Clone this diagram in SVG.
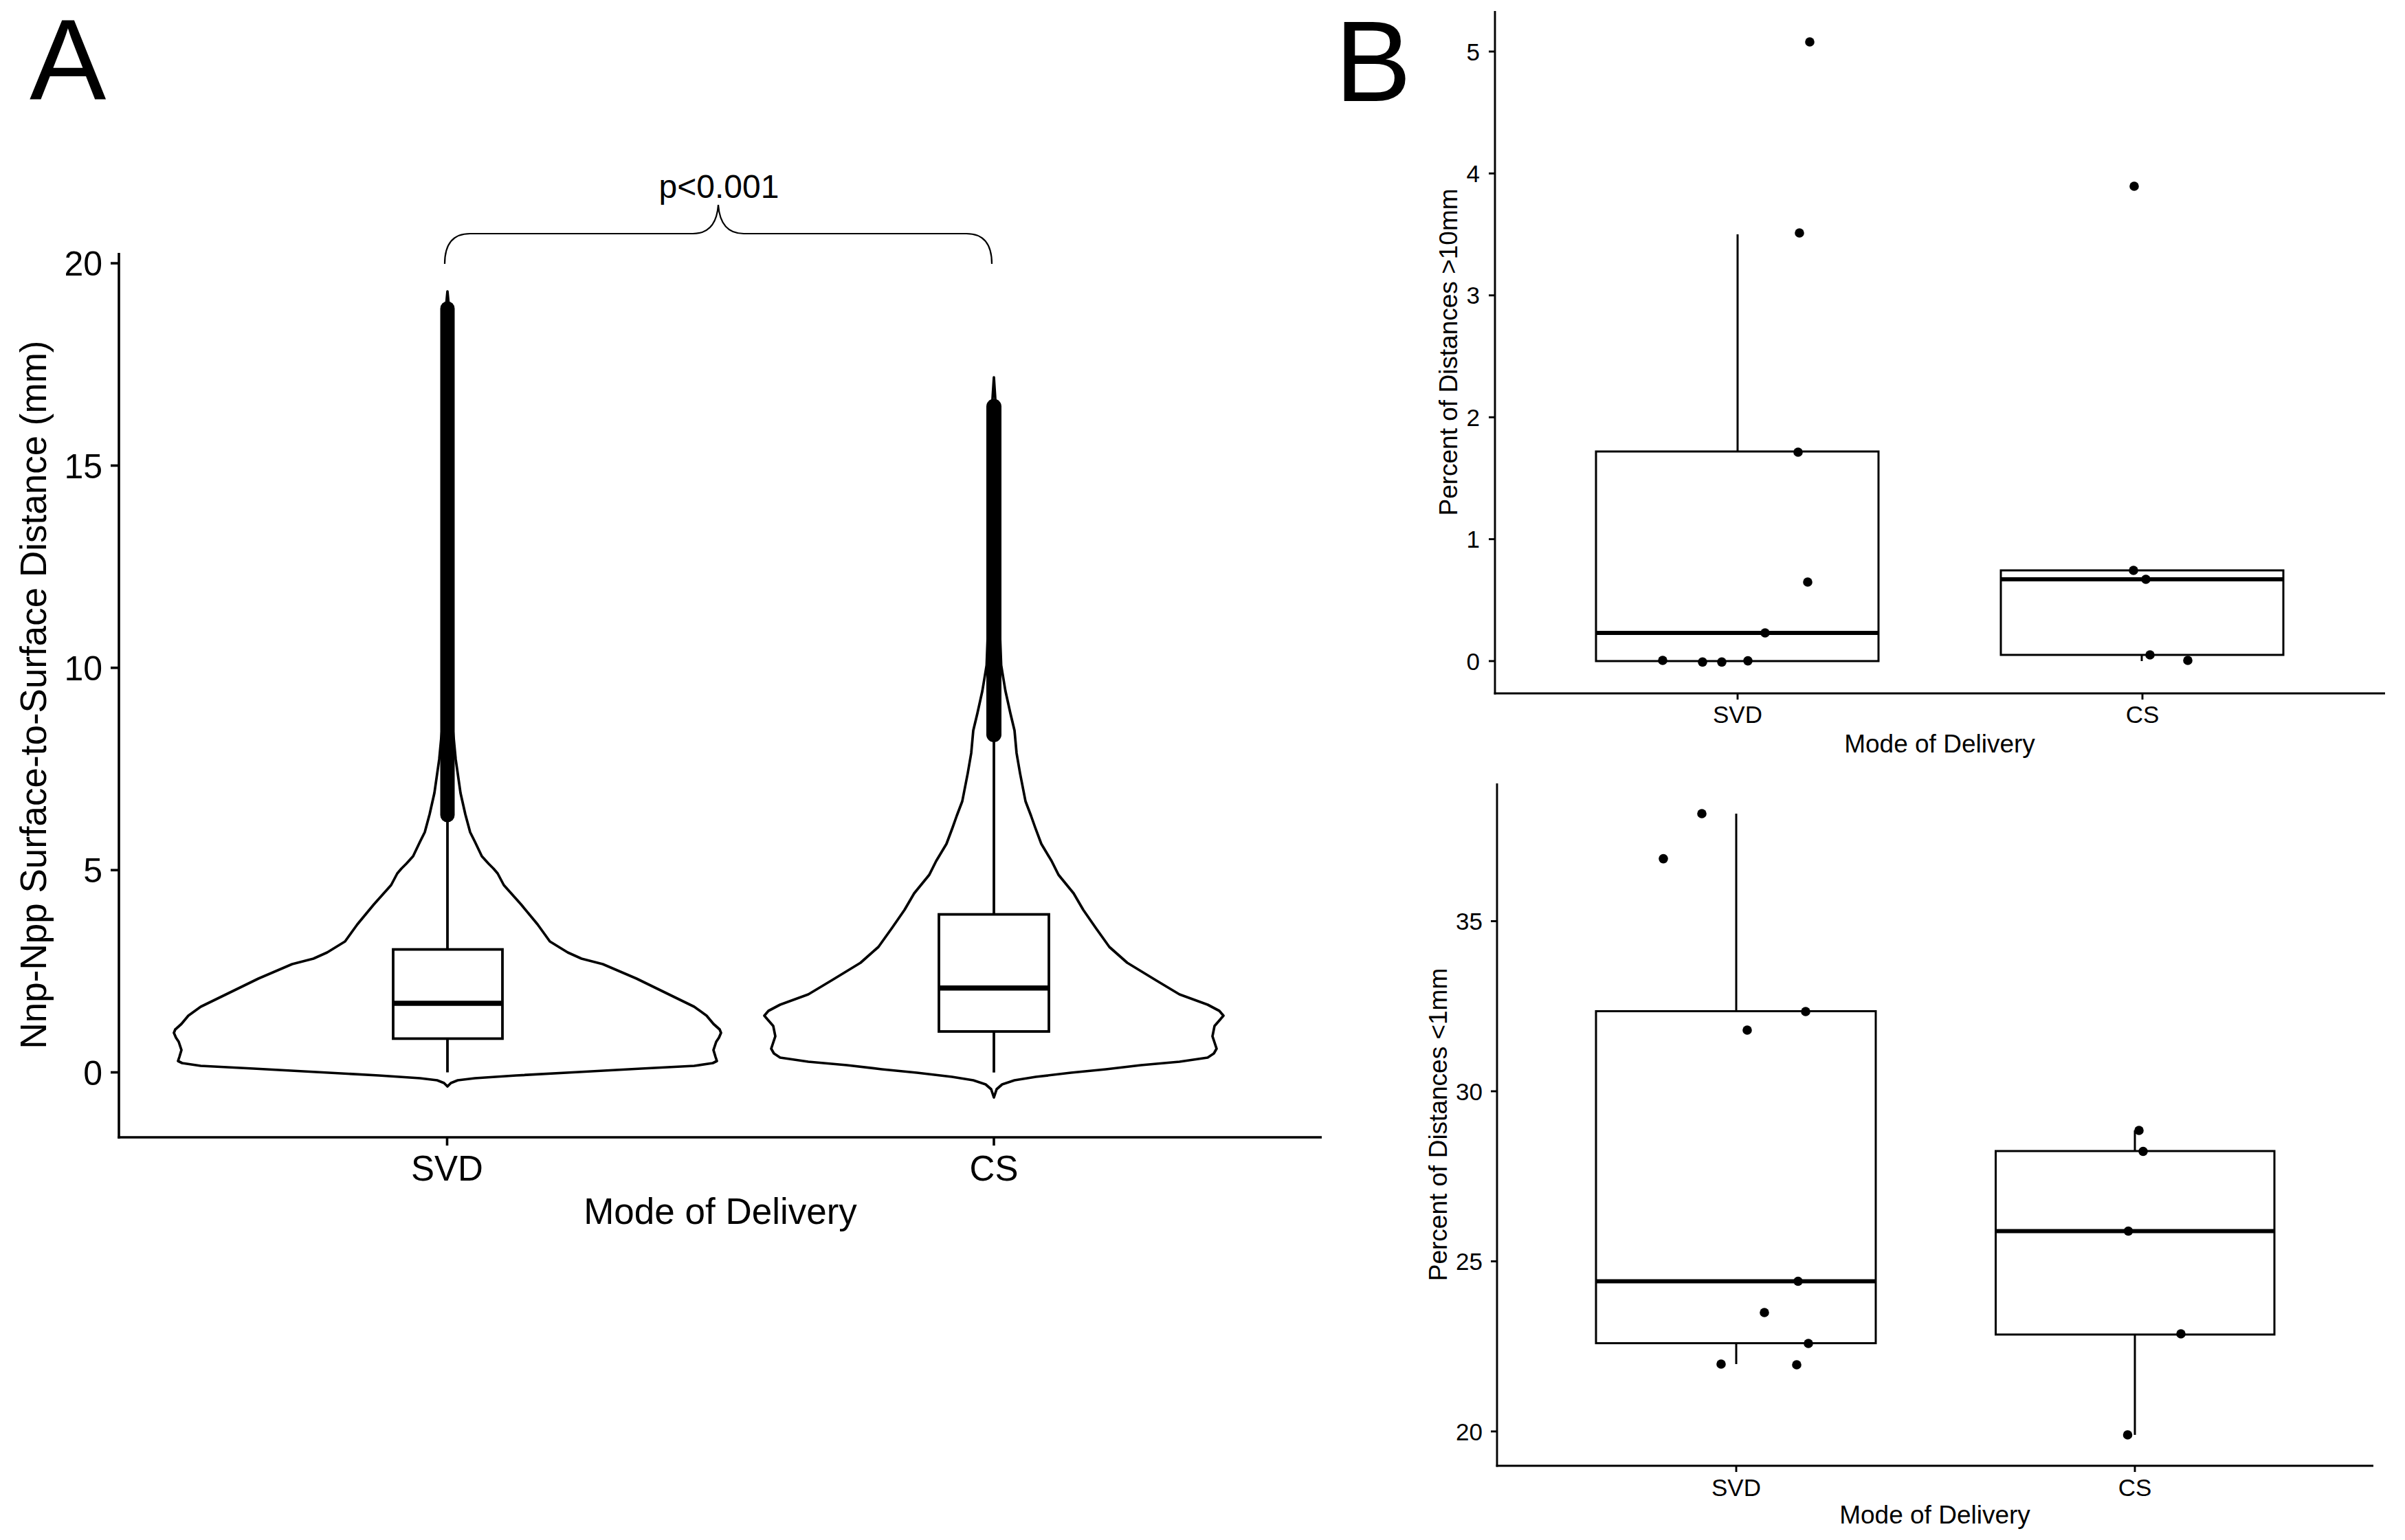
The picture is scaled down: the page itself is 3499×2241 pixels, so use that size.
<svg xmlns="http://www.w3.org/2000/svg" width="3499" height="2241" viewBox="0 0 3499 2241">
<style>
text{font-family:"Liberation Sans",Arial,Helvetica,sans-serif;fill:#000}
.axA{stroke:#000;stroke-width:3.6;fill:none;stroke-linecap:butt}
.axB{stroke:#000;stroke-width:2.9;fill:none}
.vio{stroke:#000;stroke-width:3.7;fill:#fff;stroke-linejoin:round}
.boxA{stroke:#000;stroke-width:3.8;fill:#fff}
.medA{stroke:#000;stroke-width:7.5}
.wA{stroke:#000;stroke-width:3.8}
.boxB{stroke:#000;stroke-width:3;fill:#fff}
.medB{stroke:#000;stroke-width:6}
.wB{stroke:#000;stroke-width:3}
.out{stroke:#000;stroke-linecap:round}
.brace{stroke:#000;stroke-width:2.2;fill:none}
.tA{font-size:50px}
.xA{font-size:51px;text-anchor:middle}
.ttA{font-size:53px;text-anchor:middle}
.tB{font-size:35px;text-anchor:end}
.xB{font-size:35px;text-anchor:middle}
.ttB{font-size:37px;text-anchor:middle}
.lab{font-size:167px}
</style>

<g id="label-A"><text class="lab" x="43" y="145">A</text></g>
<g id="label-B"><text class="lab" x="1942" y="147">B</text></g>

<g id="panel-A">
  <g id="A-axes">
    <line class="axA" x1="173" y1="368" x2="173" y2="1656.8"/>
    <line class="axA" x1="171.2" y1="1655" x2="1923" y2="1655"/>
    <line class="axA" x1="161" y1="1560.5" x2="173" y2="1560.5"/>
    <line class="axA" x1="161" y1="1266.2" x2="173" y2="1266.2"/>
    <line class="axA" x1="161" y1="971.8" x2="173" y2="971.8"/>
    <line class="axA" x1="161" y1="677.5" x2="173" y2="677.5"/>
    <line class="axA" x1="161" y1="383.1" x2="173" y2="383.1"/>
    <line class="axA" x1="650.5" y1="1655" x2="650.5" y2="1667"/>
    <line class="axA" x1="1446" y1="1655" x2="1446" y2="1667"/>
    <g text-anchor="end">
      <text class="tA" x="149" y="1578.5">0</text>
      <text class="tA" x="149" y="1284">5</text>
      <text class="tA" x="149" y="990">10</text>
      <text class="tA" x="149" y="695.5">15</text>
      <text class="tA" x="149" y="401">20</text>
    </g>
    <text class="xA" x="650.5" y="1718">SVD</text>
    <text class="xA" x="1446" y="1718">CS</text>
    <text class="ttA" x="1048" y="1781">Mode of Delivery</text>
    <text class="ttA" transform="translate(67,1011) rotate(-90)">Nnp-Npp Surface-to-Surface Distance (mm)</text>
  </g>

  <g id="A-SVD">
    <path class="vio" d="M651,424 L652.5,440 L653.5,600 L654.5,800 L656,950 L657.5,1030 L659,1063 L663,1105 L670,1154 L677,1185 L684,1211 L691,1225 L701,1246 L711,1257 L718,1264 L724,1271 L733,1288 L758,1316 L782,1345 L800,1370 L826,1386 L846,1395 L877,1403 L926,1424 L969,1445 L1010,1465 L1028,1478 L1038,1490 L1047,1498 L1049,1503 L1046,1510 L1042,1516 L1038,1528 L1041,1538 L1043,1544 L1037,1547 L1010,1551 L933,1555 L842,1560 L751,1565 L691,1569 L666,1572 L656,1576 L651,1581 L646,1576 L636,1572 L611,1569 L551,1565 L460,1560 L369,1555 L292,1551 L265,1547 L259,1544 L261,1538 L264,1528 L260,1516 L256,1510 L253,1503 L255,1498 L264,1490 L274,1478 L292,1465 L333,1445 L376,1424 L425,1403 L456,1395 L476,1386 L502,1370 L520,1345 L544,1316 L569,1288 L578,1271 L584,1264 L591,1257 L601,1246 L611,1225 L618,1211 L625,1185 L632,1154 L639,1105 L643,1063 L644.5,1030 L646,950 L647.5,800 L648.5,600 L649.5,440 Z"/>
    <line class="out" x1="651" y1="449" x2="651" y2="1186" stroke-width="21"/>
    <line class="wA" x1="651" y1="1195" x2="651" y2="1381.6"/>
    <line class="wA" x1="651" y1="1511.4" x2="651" y2="1560.5"/>
    <rect class="boxA" x="572" y="1381.6" width="159" height="129.8"/>
    <line class="medA" x1="572" y1="1460" x2="731" y2="1460"/>
  </g>

  <g id="A-CS">
    <path class="vio" d="M1446,549 L1448,580 L1450,700 L1452,800 L1454,900 L1456.6,968 L1462.7,1005 L1470,1038 L1476,1063 L1479,1096 L1484,1125 L1492,1166 L1500,1187 L1506,1204 L1515,1228 L1530,1253 L1540,1273 L1562,1300 L1576,1324 L1594,1350 L1614,1378 L1640,1401 L1681,1426 L1716,1447 L1757,1462 L1774,1471 L1780,1478 L1774,1485 L1767,1493 L1764,1508 L1768,1520 L1770,1526 L1766,1533 L1757,1539 L1716,1545 L1660,1550 L1609,1556 L1558,1561 L1507,1567 L1476,1572 L1458,1578 L1450,1585 L1446,1597 L1442,1585 L1434,1578 L1416,1572 L1385,1567 L1334,1561 L1283,1556 L1232,1550 L1176,1545 L1135,1539 L1126,1533 L1122,1526 L1124,1520 L1128,1508 L1125,1493 L1118,1485 L1112,1478 L1118,1471 L1135,1462 L1176,1447 L1211,1426 L1252,1401 L1278,1378 L1298,1350 L1316,1324 L1330,1300 L1352,1273 L1362,1253 L1377,1228 L1386,1204 L1392,1187 L1400,1166 L1408,1125 L1413,1096 L1416,1063 L1422,1038 L1429.3,1005 L1435.4,968 L1438,900 L1440,800 L1442,700 L1444,580 Z"/>
    <line class="out" x1="1446" y1="591.5" x2="1446" y2="1069" stroke-width="22"/>
    <line class="wA" x1="1446" y1="1078" x2="1446" y2="1330.6"/>
    <line class="wA" x1="1446" y1="1501" x2="1446" y2="1560.7"/>
    <rect class="boxA" x="1366" y="1330.6" width="160" height="170.4"/>
    <line class="medA" x1="1366" y1="1437.8" x2="1526" y2="1437.8"/>
  </g>

  <g id="A-bracket">
    <path class="brace" d="M647,384 C647,352 662,340 684,340 L1008,340 C1030,340 1043,326 1045,298"/>
    <path class="brace" d="M1443,384 C1443,352 1428,340 1406,340 L1082,340 C1060,340 1047,326 1045,298"/>
    <text x="1046" y="288" font-size="48" text-anchor="middle">p&lt;0.001</text>
  </g>
</g>

<g id="panel-B-top">
  <g id="Bt-axes">
    <line class="axB" x1="2175" y1="16" x2="2175" y2="1010.4"/>
    <line class="axB" x1="2173.6" y1="1009" x2="3470" y2="1009"/>
    <line class="axB" x1="2166" y1="962" x2="2175" y2="962"/>
    <line class="axB" x1="2166" y1="784.6" x2="2175" y2="784.6"/>
    <line class="axB" x1="2166" y1="607.2" x2="2175" y2="607.2"/>
    <line class="axB" x1="2166" y1="429.8" x2="2175" y2="429.8"/>
    <line class="axB" x1="2166" y1="252.4" x2="2175" y2="252.4"/>
    <line class="axB" x1="2166" y1="75" x2="2175" y2="75"/>
    <line class="axB" x1="2528" y1="1009" x2="2528" y2="1018"/>
    <line class="axB" x1="3117" y1="1009" x2="3117" y2="1018"/>
    <text class="tB" x="2153" y="974.5">0</text>
    <text class="tB" x="2153" y="797">1</text>
    <text class="tB" x="2153" y="619.7">2</text>
    <text class="tB" x="2153" y="442.3">3</text>
    <text class="tB" x="2153" y="265">4</text>
    <text class="tB" x="2153" y="87.5">5</text>
    <text class="xB" x="2528" y="1052">SVD</text>
    <text class="xB" x="3117" y="1052">CS</text>
    <text class="ttB" x="2822" y="1095">Mode of Delivery</text>
    <text class="ttB" transform="translate(2120,512.5) rotate(-90)">Percent of Distances &gt;10mm</text>
  </g>
  <g id="Bt-SVD">
    <line class="wB" x1="2528" y1="341" x2="2528" y2="657"/>
    <rect class="boxB" x="2322" y="657" width="411" height="305"/>
    <line class="medB" x1="2322" y1="921" x2="2733" y2="921"/>
    <g fill="#000">
      <circle cx="2633" cy="61" r="6.8"/>
      <circle cx="2618" cy="339" r="6.8"/>
      <circle cx="2616" cy="658" r="6.8"/>
      <circle cx="2630" cy="847" r="6.8"/>
      <circle cx="2568" cy="921" r="6.8"/>
      <circle cx="2419" cy="961" r="6.8"/>
      <circle cx="2477" cy="963.4" r="6.8"/>
      <circle cx="2505" cy="963.4" r="6.8"/>
      <circle cx="2543" cy="961.6" r="6.8"/>
    </g>
  </g>
  <g id="Bt-CS">
    <line class="wB" x1="3116" y1="953" x2="3116" y2="962"/>
    <rect class="boxB" x="2911" y="830" width="411" height="123"/>
    <line class="medB" x1="2911" y1="843" x2="3322" y2="843"/>
    <g fill="#000">
      <circle cx="3105" cy="271" r="6.8"/>
      <circle cx="3104" cy="830" r="6.8"/>
      <circle cx="3122" cy="843" r="6.8"/>
      <circle cx="3128" cy="953" r="6.8"/>
      <circle cx="3183" cy="961" r="6.8"/>
    </g>
  </g>
</g>

<g id="panel-B-bottom">
  <g id="Bb-axes">
    <line class="axB" x1="2178" y1="1140" x2="2178" y2="2134.4"/>
    <line class="axB" x1="2176.6" y1="2133" x2="3453" y2="2133"/>
    <line class="axB" x1="2169" y1="1340.5" x2="2178" y2="1340.5"/>
    <line class="axB" x1="2169" y1="1588" x2="2178" y2="1588"/>
    <line class="axB" x1="2169" y1="1835.5" x2="2178" y2="1835.5"/>
    <line class="axB" x1="2169" y1="2083" x2="2178" y2="2083"/>
    <line class="axB" x1="2526" y1="2133" x2="2526" y2="2142"/>
    <line class="axB" x1="3106" y1="2133" x2="3106" y2="2142"/>
    <text class="tB" x="2157" y="1353">35</text>
    <text class="tB" x="2157" y="1600.5">30</text>
    <text class="tB" x="2157" y="1848">25</text>
    <text class="tB" x="2157" y="2095.5">20</text>
    <text class="xB" x="2526" y="2177">SVD</text>
    <text class="xB" x="3106" y="2177">CS</text>
    <text class="ttB" x="2815" y="2217">Mode of Delivery</text>
    <text class="ttB" transform="translate(2105,1636.5) rotate(-90)">Percent of Distances &lt;1mm</text>
  </g>
  <g id="Bb-SVD">
    <line class="wB" x1="2526" y1="1184" x2="2526" y2="1471.5"/>
    <line class="wB" x1="2526" y1="1954.6" x2="2526" y2="1985"/>
    <rect class="boxB" x="2322" y="1471.5" width="407" height="483.1"/>
    <line class="medB" x1="2322" y1="1864.5" x2="2729" y2="1864.5"/>
    <g fill="#000">
      <circle cx="2476" cy="1184" r="6.8"/>
      <circle cx="2420" cy="1249.6" r="6.8"/>
      <circle cx="2627" cy="1472" r="6.8"/>
      <circle cx="2542" cy="1499" r="6.8"/>
      <circle cx="2616" cy="1864.5" r="6.8"/>
      <circle cx="2567" cy="1910" r="6.8"/>
      <circle cx="2631" cy="1955" r="6.8"/>
      <circle cx="2504" cy="1985" r="6.8"/>
      <circle cx="2614" cy="1986" r="6.8"/>
    </g>
  </g>
  <g id="Bb-CS">
    <line class="wB" x1="3106" y1="1645" x2="3106" y2="1675"/>
    <line class="wB" x1="3106" y1="1942" x2="3106" y2="2088"/>
    <rect class="boxB" x="2903.5" y="1675" width="405.5" height="267"/>
    <line class="medB" x1="2903.5" y1="1791.5" x2="3309" y2="1791.5"/>
    <g fill="#000">
      <circle cx="3112" cy="1645" r="6.8"/>
      <circle cx="3118" cy="1675.5" r="6.8"/>
      <circle cx="3096.5" cy="1791.5" r="6.8"/>
      <circle cx="3173" cy="1941" r="6.8"/>
      <circle cx="3095.5" cy="2088" r="6.8"/>
    </g>
  </g>
</g>
</svg>
